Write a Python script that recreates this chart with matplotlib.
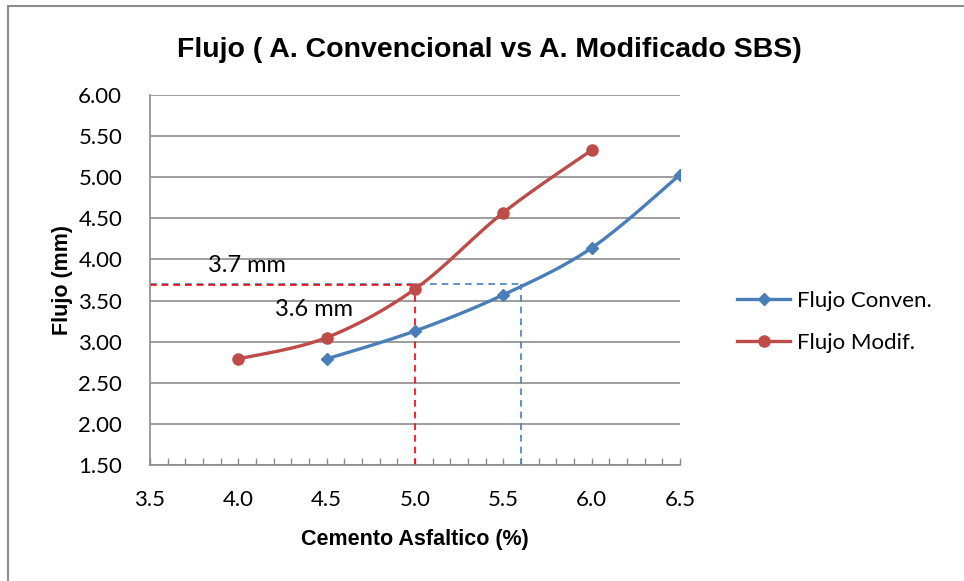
import numpy as np
import matplotlib
matplotlib.use("Agg")
import matplotlib.pyplot as plt
from matplotlib.lines import Line2D
from matplotlib.patches import Rectangle
from matplotlib.ticker import MultipleLocator, FormatStrFormatter

# asphalt content (%) and flow (mm)
cemento_conv = [4.5, 5.0, 5.5, 6.0, 6.5]
flujo_conv = [2.79, 3.13, 3.57, 4.14, 5.03]
cemento_modif = [4.0, 4.5, 5.0, 5.5, 6.0]
flujo_modif = [2.79, 3.05, 3.64, 4.57, 5.33]

# design flow read on each curve
flujo_diseno_conv = 3.70
cemento_diseno_conv = 5.6
flujo_diseno_modif = 3.69
cemento_diseno_modif = 5.0

BLUE = "#4a7ebb"
RED = "#be4b48"
GRID = "#8c8c8c"
LABEL_FONT = ["Lato", "DejaVu Sans"]


def smooth(xs, ys, n=30):
    # Catmull-Rom style bezier through the points (excel "smoothed line")
    p = np.column_stack([xs, ys]).astype(float)
    p = np.vstack([p[0], p, p[-1]])
    out = []
    t = np.linspace(0, 1, n)[:, None]
    for i in range(1, len(p) - 2):
        p0, p1 = p[i], p[i + 1]
        c1 = p0 + (p[i + 1] - p[i - 1]) / 6.0
        c2 = p1 - (p[i + 2] - p[i]) / 6.0
        seg = ((1 - t) ** 3) * p0 + 3 * ((1 - t) ** 2) * t * c1 \
            + 3 * (1 - t) * t ** 2 * c2 + t ** 3 * p1
        out.append(seg if i == 1 else seg[1:])
    out = np.vstack(out)
    return out[:, 0], out[:, 1]


fig = plt.figure(figsize=(9.64, 5.81), dpi=100)
fig.patches.append(Rectangle((8 / 964, -0.05), 1.2, 1 - 6 / 581 + 0.05,
                             transform=fig.transFigure, fill=False,
                             edgecolor="#8c8c8c", linewidth=1.5))
ax = fig.add_axes([150 / 964, 1 - 465 / 581, 530 / 964, 370 / 581])

ax.set_xlim(3.5, 6.5)
ax.set_ylim(1.5, 6.0)

# reference lines for the design flow
ax.plot([3.5, cemento_diseno_conv], [flujo_diseno_conv, flujo_diseno_conv],
        color=BLUE, lw=1.2, ls=(0, (4, 3)), zorder=2)
ax.plot([cemento_diseno_conv, cemento_diseno_conv], [1.5, flujo_diseno_conv],
        color=BLUE, lw=1.2, ls=(0, (4, 3)), zorder=2)
ax.plot([3.5, cemento_diseno_modif], [flujo_diseno_modif, flujo_diseno_modif],
        color="#ff0000", lw=1.2, ls=(0, (4, 3)), zorder=2)
ax.plot([cemento_diseno_modif, cemento_diseno_modif], [1.5, flujo_diseno_modif],
        color="#ff0000", lw=1.2, ls=(0, (4, 3)), zorder=2)

sx, sy = smooth(cemento_conv, flujo_conv)
ax.plot(sx, sy, color=BLUE, lw=2.4, zorder=3, solid_capstyle="round")
ax.plot(cemento_conv, flujo_conv, ls="none", marker="D", ms=6.5,
        color=BLUE, zorder=4)
sx, sy = smooth(cemento_modif, flujo_modif)
ax.plot(sx, sy, color=RED, lw=2.4, zorder=3, solid_capstyle="round")
ax.plot(cemento_modif, flujo_modif, ls="none", marker="o", ms=8,
        color=RED, zorder=4)

ax.text(3.83, 3.93, "3.7 mm", fontsize=17, family=LABEL_FONT, va="center")
ax.text(4.21, 3.39, "3.6 mm", fontsize=17, family=LABEL_FONT, va="center")

ax.yaxis.set_major_locator(MultipleLocator(0.5))
ax.xaxis.set_major_locator(MultipleLocator(0.5))
ax.xaxis.set_minor_locator(MultipleLocator(0.1))
ax.yaxis.set_major_formatter(FormatStrFormatter("%.2f"))
ax.xaxis.set_major_formatter(FormatStrFormatter("%.1f"))
ax.grid(axis="y", color=GRID, lw=1.2)
ax.set_axisbelow(True)
for s in ["top", "right"]:
    ax.spines[s].set_visible(False)
for s in ["left", "bottom"]:
    ax.spines[s].set_color(GRID)
    ax.spines[s].set_linewidth(1.2)
ax.tick_params(axis="y", length=0, pad=20)
ax.tick_params(axis="x", which="both", direction="in", length=5,
               color=GRID, width=1, pad=18)
for lab in ax.get_xticklabels() + ax.get_yticklabels():
    lab.set_family(LABEL_FONT)
    lab.set_fontsize(16)

ax.set_xlabel("Cemento Asfaltico (%)", family="Liberation Sans",
              fontweight="bold", fontsize=15.5, labelpad=14)
ax.set_ylabel("Flujo (mm)", family="Liberation Sans", fontweight="bold",
              fontsize=15.5, labelpad=4)
fig.text(0.508, 0.914, "Flujo ( A. Convencional vs A. Modificado SBS)",
         family="Liberation Sans", fontweight="bold", fontsize=20.5,
         ha="center", va="center")

handles = [
    Line2D([], [], color=BLUE, lw=2.4, marker="D", ms=6.5),
    Line2D([], [], color=RED, lw=2.4, marker="o", ms=8),
]
fig.legend(handles, ["Flujo Conven.", "Flujo Modif."], loc="center left",
           bbox_to_anchor=(728 / 964, 1 - 322 / 581), frameon=False,
           prop={"family": LABEL_FONT, "size": 16}, handlelength=2.4,
           handletextpad=0.3, labelspacing=1.0, borderaxespad=0)

fig.savefig("out.png", dpi=100)
